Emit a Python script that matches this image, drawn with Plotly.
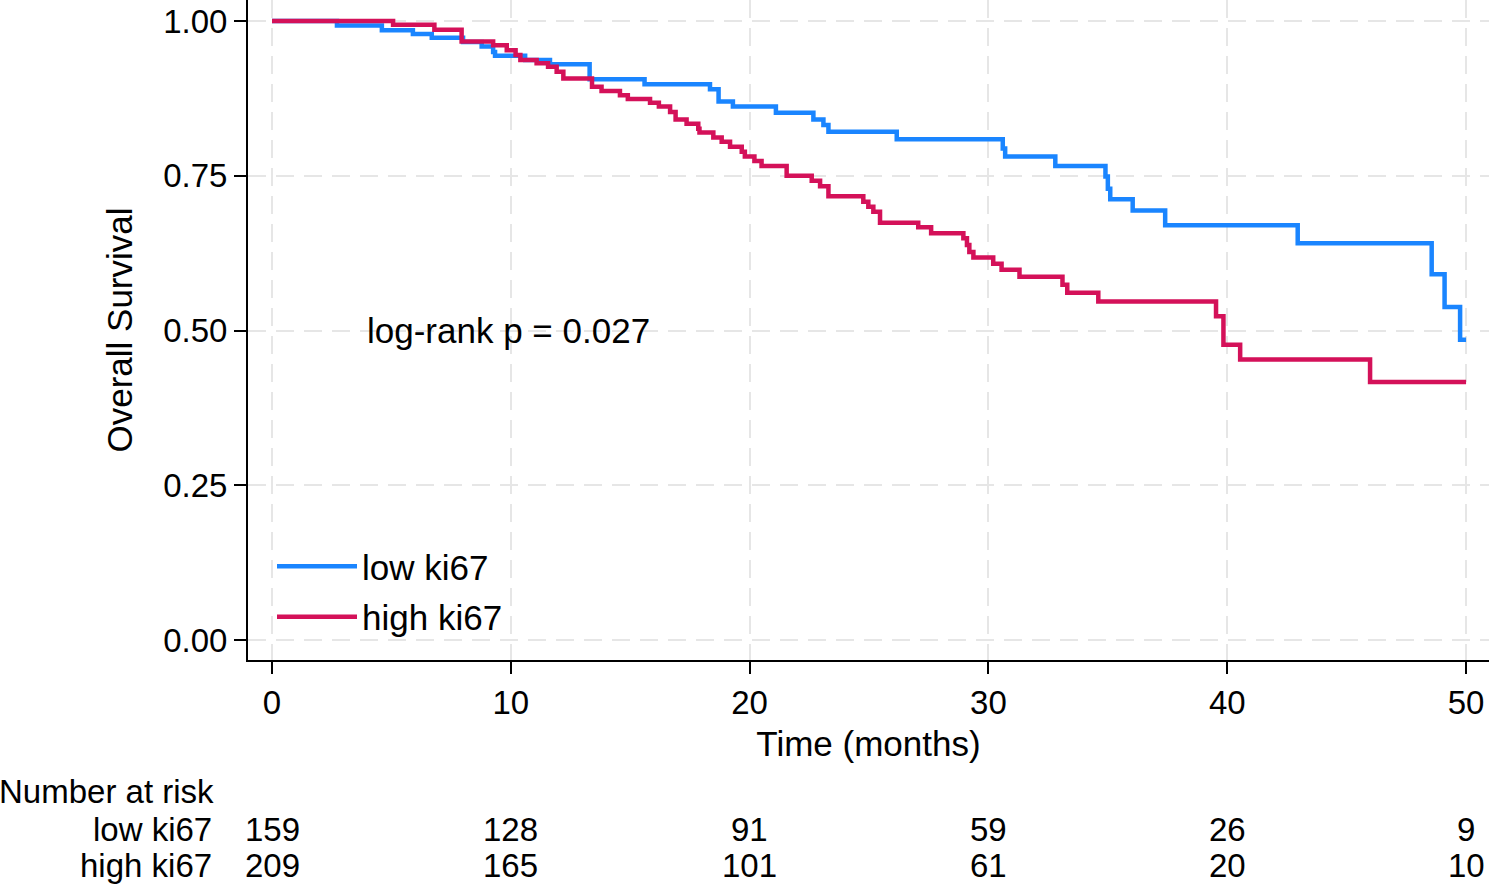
import plotly.graph_objects as go

# ---- data ----
low_t = [0, 2.72, 4.6, 5.9, 6.69, 8.0, 8.78, 9.26, 9.34, 10.6, 11.64, 13.3, 15.6, 18.34, 18.7,
         19.3, 21.1, 22.67, 23.09, 23.3, 26.16, 30.6, 30.7, 32.8, 34.9, 35.0, 35.1, 36.04, 37.4,
         42.95, 48.56, 49.1, 49.75, 50]
low_s = [1.0, 0.993, 0.985, 0.979, 0.973, 0.966, 0.959, 0.950, 0.944, 0.937, 0.930, 0.906, 0.898,
         0.890, 0.870, 0.862, 0.852, 0.841, 0.832, 0.821, 0.809, 0.794, 0.781, 0.766, 0.749, 0.729,
         0.712, 0.694, 0.670, 0.641, 0.591, 0.538, 0.485, 0.485]

high_t = [0, 5.07, 6.8, 7.94, 9.26, 9.83, 10.2, 10.4, 11.08, 11.56, 11.92, 12.2, 13.4, 13.8, 14.57,
          14.9, 15.83, 16.2, 16.67, 16.9, 17.36, 17.85, 17.9, 18.48, 18.83, 19.18, 19.67, 19.8,
          20.2, 20.5, 21.55, 22.6, 22.95, 23.3, 24.76, 24.97, 25.18, 25.46, 27.06, 27.6, 28.95,
          29.1, 29.2, 29.37, 30.2, 30.55, 31.3, 33.1, 33.3, 34.6, 39.53, 39.84, 40.54, 45.98, 50]
high_s = [1.0, 0.994, 0.986, 0.967, 0.961, 0.953, 0.945, 0.937, 0.932, 0.926, 0.918, 0.907, 0.894,
          0.887, 0.880, 0.874, 0.868, 0.862, 0.853, 0.841, 0.834, 0.826, 0.820, 0.812, 0.805,
          0.797, 0.789, 0.781, 0.774, 0.766, 0.750, 0.742, 0.733, 0.717, 0.708, 0.700, 0.692,
          0.674, 0.667, 0.657, 0.649, 0.638, 0.627, 0.618, 0.608, 0.598, 0.587, 0.574, 0.561,
          0.547, 0.523, 0.477, 0.453, 0.417, 0.417]

risk_times = [0, 10, 20, 30, 40, 50]
risk_low = [159, 128, 91, 59, 26, 9]
risk_high = [209, 165, 101, 61, 20, 10]
group_names = ["low ki67", "high ki67"]
colors = ["#1a85ff", "#d41159"]

FONT = "Liberation Sans, Arial, sans-serif"

# layout geometry (pixels)
W, H = 1489, 886
ML, MB = 248, 226
PW, PH = W - ML, H - MB


def px_x(p):
    return (p - ML) / PW


def px_y(p):
    return (PH - p) / PH


fig = go.Figure()
fig.add_trace(go.Scatter(x=low_t, y=low_s, mode="lines", line_shape="hv",
                         line=dict(color=colors[0], width=4.5), name=group_names[0],
                         legendgroup="a"))
fig.add_trace(go.Scatter(x=high_t, y=high_s, mode="lines", line_shape="hv",
                         line=dict(color=colors[1], width=4.5), name=group_names[1],
                         legendgroup="b"))

annotations = [
    dict(x=3.89, y=0.50, xref="x", yref="y", text="log-rank p = 0.027", showarrow=False,
         xanchor="left", yanchor="middle", font=dict(size=35, color="black")),
    dict(x=px_x(-3), y=px_y(791), xref="paper", yref="paper", text="Number at risk",
         showarrow=False, xanchor="left", yanchor="middle", font=dict(size=33, color="black")),
]
for name, vals, ypx in [(group_names[0], risk_low, 829), (group_names[1], risk_high, 865)]:
    annotations.append(dict(x=px_x(214), y=px_y(ypx), xref="paper", yref="paper", text=name,
                            showarrow=False, xanchor="right", yanchor="middle",
                            font=dict(size=33, color="black")))
    for t, v in zip(risk_times, vals):
        annotations.append(dict(x=t, y=px_y(ypx), xref="x", yref="paper", text=str(v),
                                showarrow=False, xanchor="center", yanchor="middle",
                                font=dict(size=33, color="black")))

fig.update_layout(
    width=W, height=H,
    margin=dict(l=ML, r=0, t=0, b=MB),
    paper_bgcolor="white", plot_bgcolor="white",
    font=dict(family=FONT, color="black", size=33),
    showlegend=True,
    legend=dict(x=px_x(272), y=px_y(591.5), xanchor="left", yanchor="middle",
                bgcolor="rgba(0,0,0,0)", font=dict(size=35), itemwidth=80, tracegroupgap=2),
    annotations=annotations,
)
grid = dict(showgrid=True, gridcolor="#e6e6e6", griddash="18px,10px", gridwidth=2,
            zeroline=False)
fig.update_xaxes(
    range=[-1.005, 50.96], tickmode="array", tickvals=risk_times,
    showline=True, linecolor="black", linewidth=2,
    ticks="outside", ticklen=12, tickwidth=2, tickcolor="black",
    tickfont=dict(size=33),
    title=dict(text="Time (months)", font=dict(size=35), standoff=12),
    **grid,
)
fig.update_yaxes(
    range=[-0.0323, 1.034], tickmode="array", tickvals=[0, 0.25, 0.5, 0.75, 1.0],
    tickformat=".2f",
    showline=True, linecolor="black", linewidth=2,
    ticks="outside", ticklen=12, tickwidth=2, tickcolor="black",
    tickfont=dict(size=33),
    title=dict(text="Overall Survival", font=dict(size=35), standoff=20),
    **grid,
)

fig.write_html("out.html")
